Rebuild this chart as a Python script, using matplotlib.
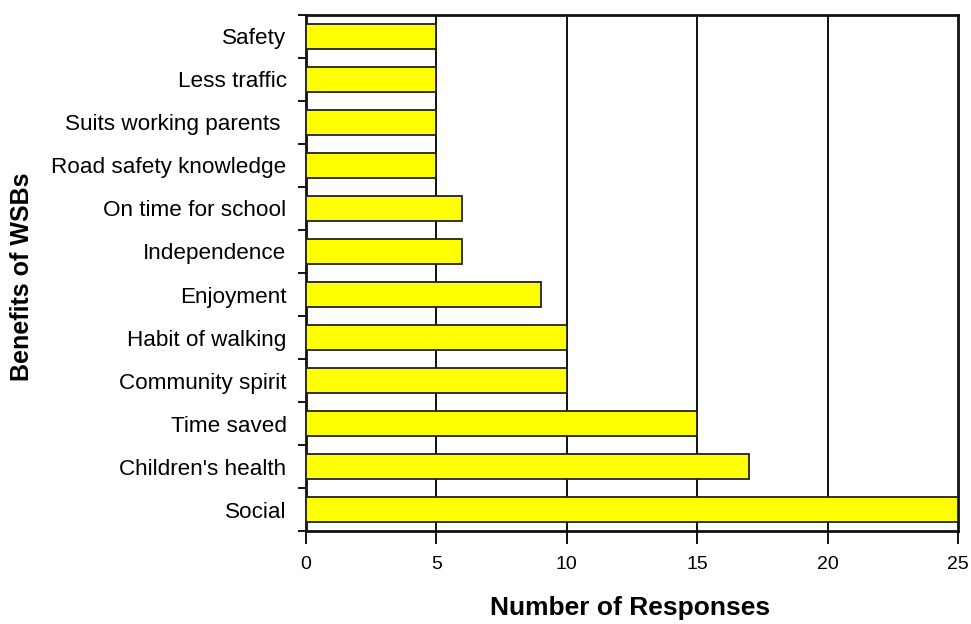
import numpy as np
import matplotlib
matplotlib.use("Agg")
import matplotlib.pyplot as plt

plt.rcParams["font.family"] = ["Liberation Sans", "DejaVu Sans"]

# bottom to top
benefits = ["Social", "Children's health", "Time saved", "Community spirit",
            "Habit of walking", "Enjoyment", "Independence", "On time for school",
            "Road safety knowledge", "Suits working parents ", "Less traffic", "Safety"]
responses = [25, 17, 15, 10, 10, 9, 6, 6, 5, 5, 5, 5]
x_ticks = [0, 5, 10, 15, 20, 25]

fig = plt.figure(figsize=(9.71, 6.24), dpi=100)
ax = fig.add_axes([0.3151, 0.149, 0.6715, 0.827])

y = np.arange(len(benefits))
ax.barh(y, responses, height=0.6, color="#ffff00", edgecolor="#222222",
        linewidth=1.3, zorder=3)

ax.set_xlim(0, 25)
ax.set_ylim(-0.5, len(benefits) - 0.5)
ax.set_xticks(x_ticks)
ax.set_xticklabels([str(v) for v in x_ticks], fontsize=14)
for v in x_ticks[1:-1]:
    ax.axvline(v, color="#111111", lw=1.4, zorder=1)

# category labels at centers, ticks at boundaries
ax.set_yticks(y)
ax.set_yticklabels(benefits, fontsize=16.2)
ax.tick_params(axis="y", length=0, pad=14)
ax.set_yticks(np.arange(len(benefits) + 1) - 0.5, minor=True)
ax.tick_params(axis="y", which="minor", length=6, width=1.3, direction="out")
ax.tick_params(axis="x", length=9, width=1.3, direction="out", pad=9)

for side in ("left", "bottom", "top", "right"):
    ax.spines[side].set_linewidth(2)
    ax.spines[side].set_color("#111111")

fig.text(630 / 971, 1 - 608 / 624, "Number of Responses", fontsize=19,
         fontweight="bold", ha="center", va="center")
fig.text(22 / 971, 1 - 277 / 624, "Benefits of WSBs", fontsize=18,
         fontweight="bold", ha="center", va="center", rotation=90)

fig.savefig("out.png", dpi=100, facecolor="white")
